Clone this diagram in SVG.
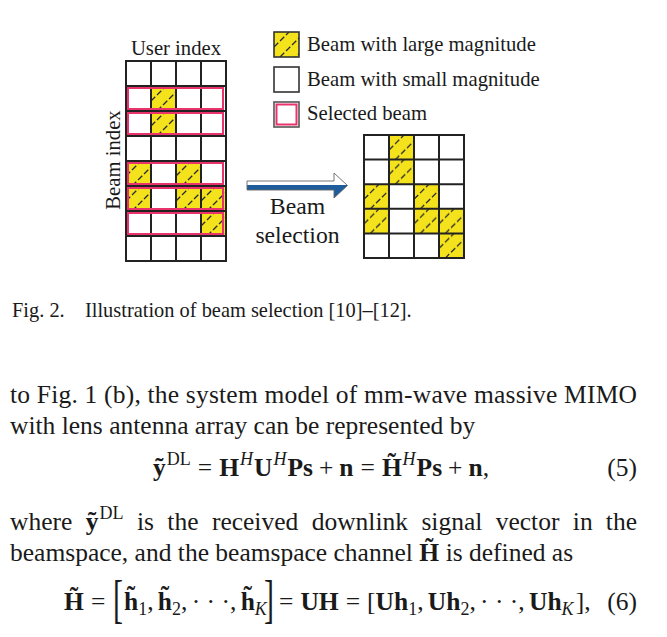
<svg xmlns="http://www.w3.org/2000/svg" width="667" height="637" viewBox="0 0 667 637">
<style>
.t{font-family:"Liberation Serif","Times New Roman",serif;fill:#1a1a1a}
.b{font-weight:bold}
.i{font-style:italic}
.lbl{font-size:20.7px}
.body{font-size:25.5px}
.cap{font-size:20.4px}
.grid{fill:none;stroke:#222;stroke-width:2}
.sel{fill:none;stroke:#e8336d;stroke-width:2}
.hat{fill:url(#hatch)}
</style>
<defs>
<pattern id="hatch" patternUnits="objectBoundingBox" x="0" y="0" width="1" height="1">
<rect width="30" height="30" fill="#f4e31c"/>
<path d="M0,15 L15,0 M0,31 L31,0 M0,47 L47,0" stroke="#2a2a2a" stroke-width="1.3" stroke-dasharray="6 2.5"/>
</pattern>
<linearGradient id="arrowfill" gradientUnits="userSpaceOnUse" x1="0" y1="173" x2="0" y2="198">
<stop offset="0" stop-color="#ffffff"/>
<stop offset="0.46" stop-color="#ffffff"/>
<stop offset="0.47" stop-color="#1e5c9b"/>
<stop offset="1" stop-color="#1e5c9b"/>
</linearGradient>
</defs>

<g id="legend">
<rect x="274" y="32" width="25" height="25" class="hat"/>
<rect x="274" y="32" width="25" height="25" fill="none" stroke="#333" stroke-width="1.6"/>
<rect x="274" y="67" width="25" height="25" fill="#fff" stroke="#333" stroke-width="1.6"/>
<rect x="274" y="102" width="25" height="25" fill="#fff" stroke="#555" stroke-width="1.6"/>
<rect x="276.5" y="104.5" width="20" height="20" class="sel"/>
<text class="t lbl" x="307" y="51">Beam with large magnitude</text>
<text class="t lbl" x="307" y="86">Beam with small magnitude</text>
<text class="t lbl" x="307" y="120">Selected beam</text>
</g>

<g id="grid-before">
<text class="t lbl" x="176" y="55" text-anchor="middle">User index</text>
<text class="t lbl" transform="translate(120,160) rotate(-90)" text-anchor="middle">Beam index</text>
<rect x="151" y="86" width="25" height="25" class="hat"/>
<rect x="151" y="111" width="25" height="25" class="hat"/>
<rect x="126" y="161" width="25" height="25" class="hat"/>
<rect x="176" y="161" width="25" height="25" class="hat"/>
<rect x="126" y="186" width="25" height="25" class="hat"/>
<rect x="176" y="186" width="25" height="25" class="hat"/>
<rect x="201" y="186" width="25" height="25" class="hat"/>
<rect x="201" y="211" width="25" height="25" class="hat"/>
<path class="grid" d="M126,61 H226 V261 H126 Z M151,61 V261 M176,61 V261 M201,61 V261 M126,86 H226 M126,111 H226 M126,136 H226 M126,161 H226 M126,186 H226 M126,211 H226 M126,236 H226"/>
<rect x="128" y="88" width="95" height="21" class="sel"/>
<rect x="128" y="113" width="95" height="21" class="sel"/>
<rect x="128" y="163" width="95" height="21" class="sel"/>
<rect x="128" y="188" width="95" height="21" class="sel"/>
<rect x="128" y="213" width="95" height="21" class="sel"/>
</g>

<g id="connectors">
<polygon points="247,181 334,181 334,173 347.5,185.5 334,198 334,190 247,190" fill="url(#arrowfill)" stroke="#666" stroke-width="0.9"/>
</g>

<g id="arrow-label">
<text class="t" font-size="23.7" x="297.5" y="214" text-anchor="middle">Beam</text>
<text class="t" font-size="23.7" x="297.5" y="243" text-anchor="middle">selection</text>
</g>

<g id="grid-after">
<rect x="389" y="135" width="25" height="24.6" class="hat"/>
<rect x="389" y="159.6" width="25" height="24.6" class="hat"/>
<rect x="364" y="184.2" width="25" height="24.6" class="hat"/>
<rect x="414" y="184.2" width="25" height="24.6" class="hat"/>
<rect x="364" y="208.8" width="25" height="24.6" class="hat"/>
<rect x="414" y="208.8" width="25" height="24.6" class="hat"/>
<rect x="439" y="208.8" width="25" height="24.6" class="hat"/>
<rect x="439" y="233.4" width="25" height="24.6" class="hat"/>
<path class="grid" d="M364,135 H464 V258 H364 Z M389,135 V258 M414,135 V258 M439,135 V258 M364,159.6 H464 M364,184.2 H464 M364,208.8 H464 M364,233.4 H464"/>
</g>

<g id="caption">
<text class="t cap" x="12" y="317">Fig. 2.</text>
<text class="t cap" x="85" y="317">Illustration of beam selection [10]–[12].</text>
</g>

<g id="body">
<text class="t body" x="10" y="403" textLength="627" lengthAdjust="spacing">to Fig. 1 (b), the system model of mm-wave massive MIMO</text>
<text class="t body" x="10" y="434">with lens antenna array can be represented by</text>

<text class="t body" x="153" y="476"><tspan class="b">ỹ</tspan><tspan font-size="18" dx="1" dy="-11">DL</tspan><tspan dx="7" dy="11">=</tspan><tspan class="b" dx="7">H</tspan><tspan class="i" font-size="18" dx="1" dy="-11">H</tspan><tspan class="b" dx="1" dy="11">U</tspan><tspan class="i" font-size="18" dx="1" dy="-11">H</tspan><tspan class="b" dx="1" dy="11">Ps</tspan><tspan dx="6">+</tspan><tspan class="b" dx="6">n</tspan><tspan dx="7">=</tspan><tspan class="b" dx="7">H</tspan><tspan class="b" dx="-14.2" dy="-5">˜</tspan><tspan class="i" font-size="18" dx="6.6" dy="-6">H</tspan><tspan class="b" dx="1" dy="11">Ps</tspan><tspan dx="6">+</tspan><tspan class="b" dx="6">n</tspan><tspan>,</tspan></text>
<text class="t body" x="637" y="476" text-anchor="end">(5)</text>

<text class="t body" x="10" y="530">where</text>
<text class="t body" x="85.7" y="530"><tspan class="b">ỹ</tspan><tspan font-size="18" dx="1" dy="-11">DL</tspan></text>
<text class="t body" x="137" y="530">is</text>
<text class="t body" x="167.3" y="530">the</text>
<text class="t body" x="211.9" y="530">received</text>
<text class="t body" x="311.7" y="530">downlink</text>
<text class="t body" x="421.4" y="530">signal</text>
<text class="t body" x="495.7" y="530">vector</text>
<text class="t body" x="572.8" y="530">in</text>
<text class="t body" x="637" y="530" text-anchor="end">the</text>
<text class="t body" x="10" y="561">beamspace, and the beamspace channel <tspan class="b">H</tspan><tspan class="b" dx="-14" dy="-5">˜</tspan><tspan dx="5.7" dy="5"> is defined as</tspan></text>

<text class="t body" x="64" y="610"><tspan class="b">H</tspan><tspan class="b" dx="-14.2" dy="-5">˜</tspan><tspan dx="12.8" dy="5">=</tspan></text>
<text class="t" font-size="30" transform="translate(113,616.6) scale(1,1.75)">[</text>
<text class="t body" x="124" y="610"><tspan class="b">h</tspan><tspan class="b" dx="-11.4" dy="-6">˜</tspan><tspan font-size="18" dx="2.9" dy="11">1</tspan><tspan dy="-5">,</tspan><tspan class="b" dx="4.3">h</tspan><tspan class="b" dx="-11.4" dy="-6">˜</tspan><tspan font-size="18" dx="2.9" dy="11">2</tspan><tspan dy="-5">,</tspan><tspan dx="4.3">· · ·</tspan><tspan>,</tspan><tspan class="b" dx="4.3">h</tspan><tspan class="b" dx="-11.4" dy="-6">˜</tspan><tspan class="i" font-size="18" dx="2.9" dy="11">K</tspan></text>
<text class="t" font-size="30" transform="translate(264,616.6) scale(1,1.75)">]</text>
<text class="t body" x="279" y="610"><tspan>=</tspan><tspan class="b" dx="7">UH</tspan><tspan dx="7">=</tspan><tspan dx="7">[</tspan><tspan class="b">Uh</tspan><tspan font-size="18" dy="5">1</tspan><tspan dy="-5">,</tspan><tspan class="b" dx="4.3">Uh</tspan><tspan font-size="18" dy="5">2</tspan><tspan dy="-5">,</tspan><tspan dx="4.3">· · ·</tspan><tspan>,</tspan><tspan class="b" dx="4.3">Uh</tspan><tspan class="i" font-size="18" dy="5">K</tspan><tspan dx="2" dy="-5">]</tspan><tspan>,</tspan></text>
<text class="t body" x="637" y="610" text-anchor="end">(6)</text>
</g>
</svg>
